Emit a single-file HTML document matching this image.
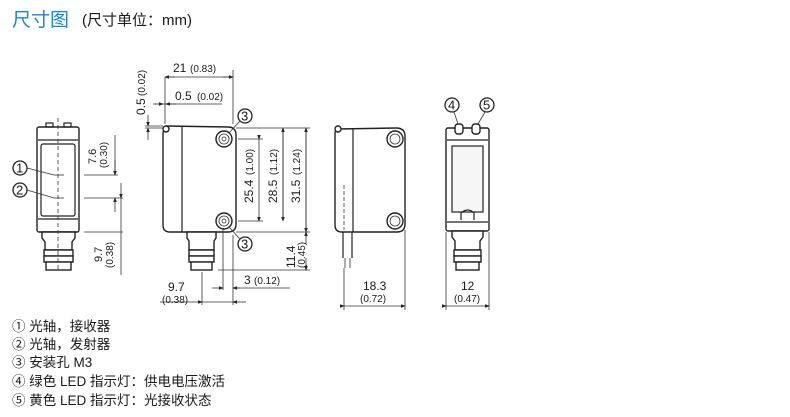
<!DOCTYPE html>
<html><head><meta charset="utf-8"><style>
html,body{margin:0;padding:0;background:#fff;width:790px;height:417px;overflow:hidden}
svg{display:block}
text{font-family:"Liberation Sans","Noto Sans CJK SC",sans-serif;fill:#1a1a1a}
.l{stroke:#222;stroke-width:1.2;fill:none}
.t{stroke:#333;stroke-width:.8;fill:none}
.c{stroke:#222;stroke-width:1.3;fill:#fff}
.b{stroke:#222;stroke-width:1.4;fill:#fff}
</style></head><body>
<svg width="790" height="417" viewBox="0 0 790 417">
<defs><marker id="a" markerWidth="6" markerHeight="6" refX="5" refY="3" orient="auto"><path d="M0,0.8L6,3L0,5.2z" fill="#222"/></marker></defs>
<text x="12" y="26" font-size="19" style="fill:#1b86cf">尺寸图</text>
<text x="82" y="25" font-size="15">(尺寸单位：mm)</text>

<!-- Left view -->
<rect class="b" x="37" y="127" width="42" height="105" rx="2"/>
<line class="l" x1="38" y1="140" x2="78" y2="140"/>
<rect class="l" x="41" y="144" width="34" height="72" rx="2"/>
<line class="l" x1="38" y1="219" x2="78" y2="219"/>
<rect class="l" x="46" y="123" width="7" height="4"/><rect class="l" x="64" y="123" width="7" height="4"/>
<path class="b" d="M42,232h33v6l-3,4v8h-27v-8l-3-4z"/>
<rect class="b" x="44" y="250" width="29" height="6"/><rect class="b" x="44" y="256" width="29" height="6"/><rect class="b" x="46" y="262" width="25" height="8"/>
<line class="t" x1="58" y1="118" x2="58" y2="272" stroke-dasharray="4,3"/>
<line class="t" x1="54" y1="175" x2="64" y2="175"/><line class="t" x1="54" y1="198" x2="64" y2="198"/>
<circle cx="20" cy="168" r="7" class="c"/><text x="16" y="172.5" font-size="13">1</text>
<circle cx="20" cy="190" r="7" class="c"/><text x="16" y="194.5" font-size="13">2</text>
<line class="t" x1="27" y1="168" x2="54" y2="175"/><line class="t" x1="27" y1="190" x2="54" y2="198"/>
<line class="t" x1="84" y1="175" x2="118" y2="175"/><line class="t" x1="84" y1="198" x2="123" y2="198"/><line class="t" x1="84" y1="232" x2="123" y2="232"/>
<line class="t" x1="115" y1="135" x2="115" y2="175"/><line class="t" x1="115" y1="160" x2="115" y2="175" marker-end="url(#a)"/>
<line class="t" x1="115" y1="212" x2="115" y2="198" marker-end="url(#a)"/>
<line class="t" x1="121" y1="183" x2="121" y2="198" marker-end="url(#a)"/><line class="t" x1="121" y1="198" x2="121" y2="275"/>
<text font-size="11" transform="translate(96,164) rotate(-90)">7.6</text>
<text font-size="10" transform="translate(107,168) rotate(-90)">(0.30)</text>
<text font-size="11" transform="translate(102,262) rotate(-90)">9.7</text>
<text font-size="10" transform="translate(113,268) rotate(-90)">(0.38)</text>

<!-- Middle front view -->
<path class="b" d="M166,129 Q163,127 166,126 L228,127 Q236,127 236,135 V224 Q236,232 228,232 H170 Q163,232 163,225 V132z"/>
<circle class="b" cx="166" cy="129" r="3"/>
<line class="l" x1="182" y1="127" x2="182" y2="232"/>
<circle class="b" cx="224" cy="139" r="8"/><circle class="t" cx="224" cy="139" r="5"/><circle class="t" cx="224" cy="139" r="2"/>
<circle class="b" cx="224" cy="221" r="8"/><circle class="t" cx="224" cy="221" r="5"/><circle class="t" cx="224" cy="221" r="2"/>
<path class="b" d="M187,232h29v6l-2,3v9h-25v-9l-2-3z"/>
<rect class="b" x="189" y="250" width="25" height="6"/><rect class="b" x="189" y="256" width="25" height="6"/><rect class="b" x="191" y="262" width="21" height="8"/>
<circle cx="245" cy="116" r="7" class="c"/><text x="241" y="120.5" font-size="13">3</text>
<line class="t" x1="240" y1="121" x2="229" y2="133"/>
<circle cx="245" cy="244" r="7" class="c"/><text x="241" y="248.5" font-size="13">3</text>
<line class="t" x1="240" y1="239" x2="229" y2="227"/>
<!-- top dims -->
<line class="t" x1="165" y1="77" x2="165" y2="124"/><line class="t" x1="233" y1="70" x2="233" y2="124"/>
<line class="t" x1="165" y1="77" x2="233" y2="77"/><line class="t" x1="175" y1="77" x2="165" y2="77" marker-end="url(#a)"/><line class="t" x1="223" y1="77" x2="233" y2="77" marker-end="url(#a)"/>
<text x="173" y="72" font-size="12">21</text><text x="190" y="72" font-size="10">(0.83)</text>
<line class="t" x1="153" y1="104" x2="222" y2="104"/><line class="t" x1="155" y1="104" x2="163" y2="104" marker-end="url(#a)"/><line class="t" x1="176" y1="104" x2="166" y2="104" marker-end="url(#a)"/>
<text x="175" y="100" font-size="12">0.5</text><text x="197" y="100" font-size="10">(0.02)</text>
<line class="t" x1="145" y1="128" x2="163" y2="128"/><line class="t" x1="145" y1="126" x2="163" y2="126"/>
<line class="t" x1="148" y1="115" x2="148" y2="126" marker-end="url(#a)"/><line class="t" x1="148" y1="140" x2="148" y2="128" marker-end="url(#a)"/>
<text font-size="12" transform="translate(145,115) rotate(-90)">0.5</text>
<text font-size="10" transform="translate(145,96) rotate(-90)">(0.02)</text>
<!-- right dims -->
<line class="t" x1="236" y1="128" x2="310" y2="128"/><line class="t" x1="236" y1="232" x2="310" y2="232"/>
<line class="t" x1="238" y1="139" x2="263" y2="139"/><line class="t" x1="238" y1="221" x2="263" y2="221"/>
<line class="t" x1="259" y1="139" x2="259" y2="221" marker-start="url(#a)" marker-end="url(#a)"/>
<line class="t" x1="283" y1="128" x2="283" y2="221" marker-end="url(#a)"/><line class="t" x1="283" y1="221" x2="283" y2="128" marker-end="url(#a)"/>
<line class="t" x1="306" y1="128" x2="306" y2="232" marker-end="url(#a)"/><line class="t" x1="306" y1="232" x2="306" y2="128" marker-end="url(#a)"/>
<text font-size="12" transform="translate(253,203) rotate(-90)">25.4</text><text font-size="10" transform="translate(253,175) rotate(-90)">(1.00)</text>
<text font-size="12" transform="translate(277,203) rotate(-90)">28.5</text><text font-size="10" transform="translate(277,175) rotate(-90)">(1.12)</text>
<text font-size="12" transform="translate(300,203) rotate(-90)">31.5</text><text font-size="10" transform="translate(300,175) rotate(-90)">(1.24)</text>
<line class="t" x1="218" y1="270" x2="310" y2="270"/>
<line class="t" x1="306" y1="244" x2="306" y2="232" marker-end="url(#a)"/><line class="t" x1="306" y1="258" x2="306" y2="270" marker-end="url(#a)"/>
<text font-size="12" transform="translate(295,268) rotate(-90)">11.4</text><text font-size="10" transform="translate(305,268) rotate(-90)">(0.45)</text>
<!-- bottom dims -->
<line class="t" x1="202" y1="272" x2="202" y2="305"/><line class="t" x1="233" y1="235" x2="233" y2="305"/><line class="t" x1="223" y1="228" x2="223" y2="290"/>
<line class="t" x1="160" y1="302" x2="202" y2="302" marker-end="url(#a)"/><line class="t" x1="246" y1="302" x2="233" y2="302" marker-end="url(#a)"/><line class="t" x1="202" y1="302" x2="233" y2="302"/>
<line class="t" x1="212" y1="288" x2="223" y2="288" marker-end="url(#a)"/><line class="t" x1="290" y1="288" x2="233" y2="288"/><line class="t" x1="240" y1="288" x2="233" y2="288" marker-end="url(#a)"/>
<text x="168" y="291" font-size="12">9.7</text><text x="162" y="303" font-size="10">(0.38)</text>
<text x="244" y="284" font-size="12">3</text><text x="254" y="284" font-size="10">(0.12)</text>

<!-- Side view -->
<path class="b" d="M338,129 L396,128 Q405,128 405,136 V224 Q405,232 397,232 H342 Q335,232 335,225 V132z"/>
<circle class="b" cx="338" cy="129" r="3"/>
<line class="l" x1="353" y1="128" x2="353" y2="232"/>
<line class="t" x1="344" y1="185" x2="344" y2="230" stroke-dasharray="4,2"/>
<circle class="b" cx="395" cy="139" r="8"/><circle class="t" cx="395" cy="139" r="5"/>
<circle class="b" cx="395" cy="221" r="8"/><circle class="t" cx="395" cy="221" r="5"/>
<line class="l" x1="343" y1="232" x2="343" y2="258"/><line class="l" x1="352" y1="232" x2="352" y2="258"/>
<line class="t" x1="345" y1="258" x2="345" y2="268"/><line class="t" x1="350" y1="258" x2="350" y2="268"/>
<line class="t" x1="344" y1="268" x2="344" y2="310"/><line class="t" x1="405" y1="230" x2="405" y2="310"/>
<line class="t" x1="344" y1="306" x2="405" y2="306" marker-start="url(#a)" marker-end="url(#a)"/>
<text x="363" y="290" font-size="12">18.3</text><text x="360" y="302" font-size="10">(0.72)</text>

<!-- Rear view -->
<rect class="b" x="446" y="128" width="43" height="103" rx="2"/>
<line class="l" x1="447" y1="140" x2="488" y2="140"/>
<rect class="l" x="452" y="146" width="31" height="66" style="fill:#f6f6f6"/>
<path class="l" d="M461,220 v-7 q7,-6 13,0 v7"/>
<line class="l" x1="447" y1="222" x2="488" y2="222"/>
<rect class="b" x="455" y="124" width="8" height="10" rx="3"/><rect class="b" x="472" y="124" width="8" height="10" rx="3"/>
<path class="b" d="M452,231h31v6l-3,4v9h-25v-9l-3-4z"/>
<rect class="b" x="454" y="250" width="27" height="6"/><rect class="b" x="454" y="256" width="27" height="6"/><rect class="b" x="456" y="262" width="23" height="8"/>
<circle cx="452" cy="105" r="7" class="c"/><text x="448" y="109.5" font-size="13">4</text>
<circle cx="487" cy="105" r="7" class="c"/><text x="483" y="109.5" font-size="13">5</text>
<line class="t" x1="454" y1="112" x2="458" y2="124"/><line class="t" x1="485" y1="112" x2="478" y2="124"/>
<line class="t" x1="446" y1="232" x2="446" y2="310"/><line class="t" x1="489" y1="232" x2="489" y2="310"/>
<line class="t" x1="446" y1="306" x2="489" y2="306" marker-start="url(#a)" marker-end="url(#a)"/>
<text x="461" y="290" font-size="12">12</text><text x="454" y="302" font-size="10">(0.47)</text>

<!-- Legend -->
<g font-size="13.5">
<text x="12" y="331">① 光轴，接收器</text>
<text x="12" y="349">② 光轴，发射器</text>
<text x="12" y="367">③ 安装孔 M3</text>
<text x="12" y="386">④ 绿色 LED 指示灯：供电电压激活</text>
<text x="12" y="405">⑤ 黄色 LED 指示灯：光接收状态</text>
</g>
</svg>
</body></html>
